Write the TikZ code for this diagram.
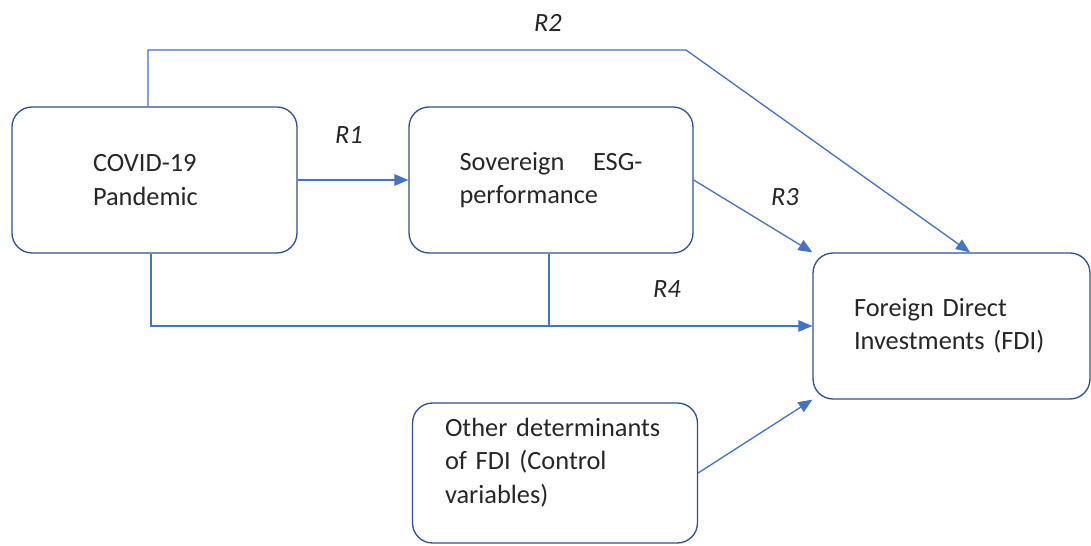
\documentclass[tikz,border=0pt]{standalone}
\usepackage{fontspec}
\setmainfont{Carlito}
\usetikzlibrary{arrows.meta}
\definecolor{boxline}{RGB}{47,82,143}
\definecolor{arrowblue}{RGB}{68,114,196}
\begin{document}
\begin{tikzpicture}[
    x=0.02cm, y=-0.02cm,
    factor/.style={draw=boxline, line width=0.75pt, rounded corners=0.4cm, align=left, inner sep=0pt,
                   text=black!85, font=\fontsize{15}{19}\selectfont},
    link/.style={draw=arrowblue, line width=0.75pt},
    linkarrow/.style={link, -{Triangle[length=0.28cm,width=0.23cm]}},
    rlabel/.style={text=black!85, font=\fontsize{15}{19}\selectfont\itshape}
]

\useasboundingbox (0,0) rectangle (1091,546);

\node[factor, minimum width=5.7cm, minimum height=2.92cm, text width=2.46cm] (covid) at (154.5,180) {COVID-19\\Pandemic};
\node[factor, minimum width=5.68cm, minimum height=2.92cm, text width=3.66cm] (esg) at (551,180) {Sovereign\hfill ESG-\\performance};
\node[factor, minimum width=5.54cm, minimum height=2.92cm, text width=3.9cm] (fdi) at (951.5,326) {Foreign Direct\\Investments (FDI)};
\node[factor, minimum width=5.7cm, minimum height=2.8cm, text width=4.4cm] (other) at (555,473) {Other determinants\\of FDI (Control\\variables)\rule[-0.5cm]{0pt}{0.5cm}};

% paths
\coordinate (bend) at (686,50);
\draw[linkarrow] (covid.east) -- (esg.west);
\draw[linkarrow] ([xshift=-0.13cm]covid.north) |- (bend) -- ([xshift=0.37cm]fdi.north);
\draw[linkarrow] (esg.east) -- (fdi.north west);
\draw[linkarrow] ([xshift=-0.07cm]covid.south) |- (fdi.west);
\draw[link] ([xshift=-0.04cm]esg.south) coordinate (esgfoot) -- (esgfoot |- fdi.west);
\draw[linkarrow] (other.east) -- (fdi.south west);

\node[rlabel] (r1) at (349,135) {R1};
\node[rlabel] (r2) at (548,23) {R2};
\node[rlabel] (r3) at (785,197) {R3};
\node[rlabel] (r4) at (667,289) {R4};

\end{tikzpicture}
\end{document}
